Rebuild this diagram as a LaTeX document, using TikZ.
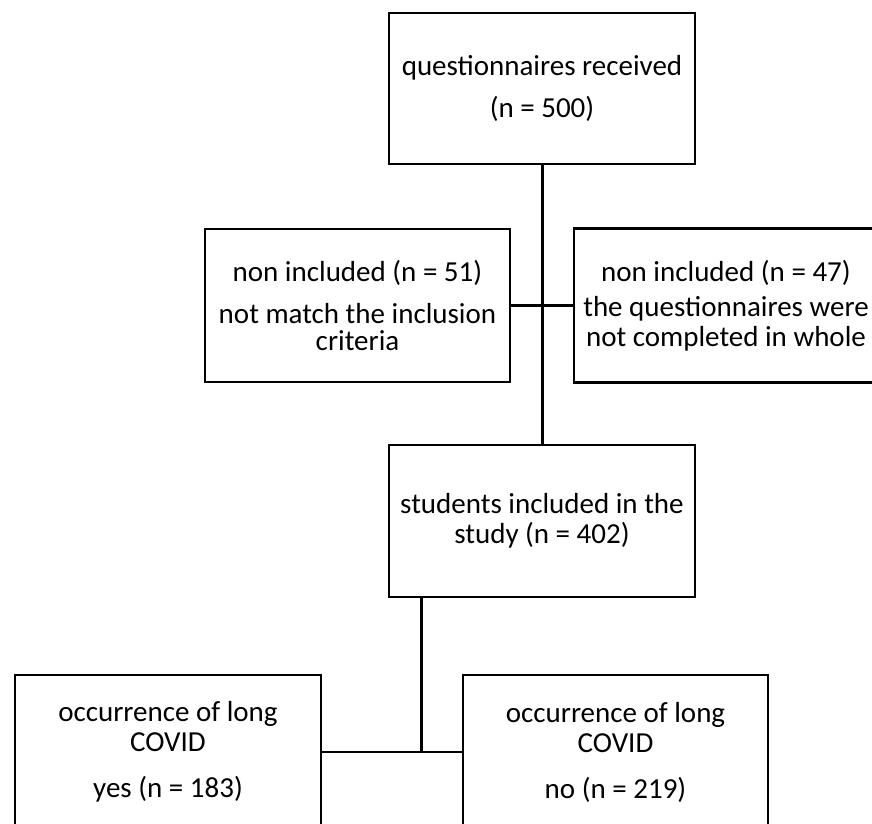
\documentclass[tikz,border=0pt]{standalone}
\usepackage{fontspec}
\setmainfont{Carlito}
\begin{document}
\begin{tikzpicture}[x=1pt,y=-1pt,
  box/.style={draw=black, line width=2.1pt, inner sep=0pt, align=center,
    font=\fontsize{29}{30}\selectfont},
  vline/.style={line width=3pt},
  hline/.style={line width=2.2pt}]
\useasboundingbox (0,0) rectangle (872,823);
\clip (0,0) rectangle (872,823);
\fill[white] (0,0) rectangle (872,823);
% boxes
\node[box, minimum width=306pt, minimum height=151pt] (rec) at (542,88.5)
  {questionnaires received\\[12pt](n = 500)};
\node[box, minimum width=305pt, minimum height=153pt] (nl) at (357.5,305.5)
  {non included (n = 51)\\[12pt]not match the inclusion\\[-3pt]criteria};
\node[box, minimum width=304pt, minimum height=154pt] (nr) at (726,305.5)
  {non included (n = 47)\\[5pt]the questionnaires were\\not completed in whole};
\node[box, minimum width=306pt, minimum height=152pt] (st) at (542,521)
  {students included in the\\study (n = 402)};
\node[box, minimum width=306pt, minimum height=154pt] (yes) at (168,752)
  {occurrence of long\\COVID\\[16pt]yes (n = 183)};
\node[box, minimum width=305pt, minimum height=154pt] (no) at (615.5,752)
  {occurrence of long\\COVID\\[16pt]no (n = 219)};
% connectors
\coordinate (j) at (421,752);
\draw[vline] (rec.south) -- (st.north);
\draw[hline] (nl.east) -- (nr.west);
\draw[vline] (st.south -| j) -- (j);
\draw[hline] (yes.east) -- (no.west);
\end{tikzpicture}
\end{document}
